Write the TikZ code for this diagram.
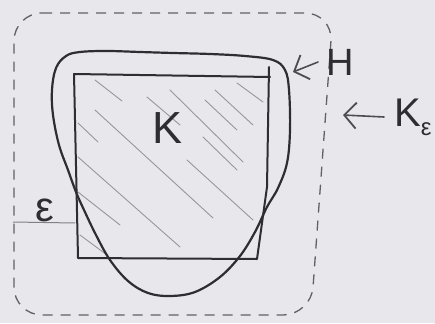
\documentclass[tikz,border=0pt]{standalone}
\usepackage{fontspec}
\setmainfont{Liberation Sans}
\usetikzlibrary{arrows.meta}
\definecolor{paper}{RGB}{232,232,236}
\definecolor{ink}{RGB}{45,45,50}
\definecolor{hatchgray}{RGB}{150,150,156}
\begin{document}
\begin{tikzpicture}[x=1pt,y=-1pt,
  outline/.style={draw=ink,line width=2pt,line join=round,line cap=round},
  hatchline/.style={draw=hatchgray,line width=0.9pt,line cap=round},
  dashbox/.style={draw=ink!75,line width=1.3pt,dash pattern=on 10pt off 8pt,rounded corners=28pt},
  lbl/.style={text=ink,inner sep=0pt},
  pointer/.style={draw=ink!85,line width=1.6pt,line cap=round,-{Straight Barb[length=12pt,width=26pt,line width=1.8pt]}},
  gapline/.style={draw=ink!60,line width=1pt},
]
\fill[paper] (0,0) rectangle (435,323);
\useasboundingbox (0,0) rectangle (435,323);

% hatching of K
\foreach \a/\b in {{(95,80)}/{(122,101)}, {(147,97)}/{(180,125)}, {(170,90)}/{(243,162)},
  {(205,100)}/{(237,130)}, {(215,90)}/{(253,125)}, {(237,83)}/{(263,102)},
  {(95,110)}/{(213,218)}, {(78,123)}/{(98,142)}, {(78,157)}/{(180,247)},
  {(187,160)}/{(253,220)}, {(78,192)}/{(120,225)}, {(80,235)}/{(107,255)},
  {(203,137)}/{(237,170)}}
  \draw[hatchline] \a -- \b;

% K_epsilon (dashed neighbourhood)
\draw[dashbox] (14,13) -- (333,13) -- (311,315) -- (14,315) -- cycle;

% square K
\draw[outline] (269,67) -- (267,187) -- (257,259) -- (78,258) -- (74,74) -- (270,77);

% set H
\draw[outline,line width=2.2pt] plot[smooth cycle,tension=0.6] coordinates {
 (80,52) (107,51) (140,52) (173,53) (210,54) (245,56) (273,60) (285,70) (289,90)
 (290,130) (287,163) (278,188) (267,207) (255,232) (240,256) (220,277) (195,292)
 (170,296) (148,293) (128,281) (110,260) (96,235) (84,210) (76,192) (68,170)
 (59,145) (53,115) (52,90) (56,68) (66,56)};

% labels
\node[lbl,font=\fontsize{45}{45}\selectfont] (klbl) at (168,128) {K};
\node[lbl,font=\fontsize{38}{38}\selectfont] (hlbl) at (340,62) {H};
\node[lbl,font=\fontsize{40}{40}\selectfont] (kelbl) at (413,117) {K\raisebox{-0.22em}{\fontsize{24}{24}\selectfont ε}};
\node[lbl,font=\fontsize{42}{42}\selectfont] (elbl) at (45,210) {ε};

% epsilon gap
\coordinate (gapl) at (13,222);
\coordinate (gapr) at (75,223);
\draw[gapline] (gapl) -- (gapr);

% pointers
\coordinate (htip) at (293,72);
\coordinate (ketip) at (343,115);
\draw[pointer] ([xshift=-8pt]hlbl.west) -- (htip);
\draw[pointer] ([xshift=-10pt]kelbl.west) -- (ketip);
\end{tikzpicture}
\end{document}
